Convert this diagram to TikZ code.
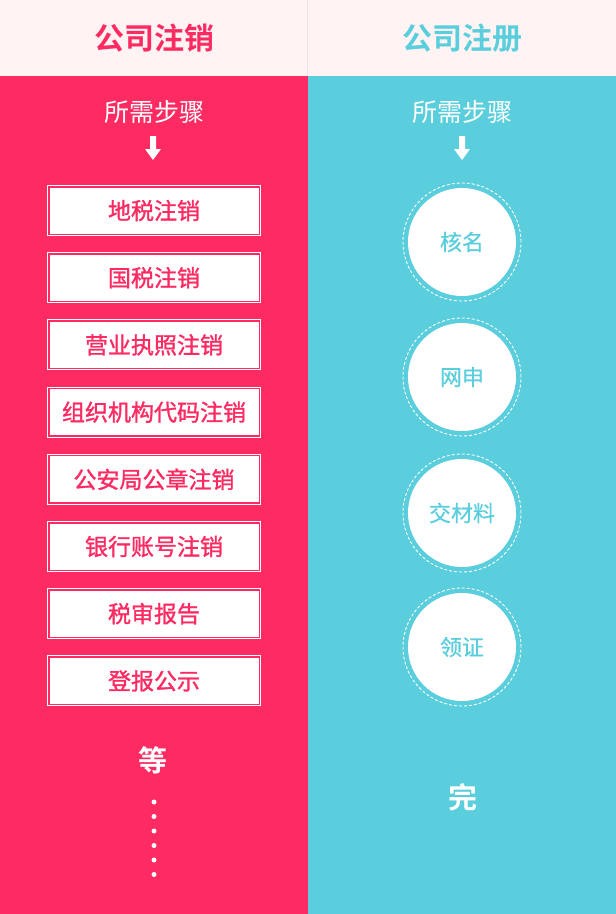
\documentclass[tikz,border=0pt]{standalone}
\usepackage{fontspec}
\setmainfont{Noto Sans CJK SC}
\newfontfamily\cjkbold{Noto Sans CJK SC Bold}
\newfontfamily\cjkmed[FakeBold=1.3]{Noto Sans CJK SC}
\newfontfamily\cjksemi[FakeBold=0.6]{Noto Sans CJK SC}
\definecolor{pinkc}{HTML}{FE2A62}
\definecolor{cyanc}{HTML}{5ACEDD}
\definecolor{headbg}{HTML}{FFF4F3}
\definecolor{divc}{HTML}{F6E4E2}
\tikzset{
  title/.style={font=\cjkbold\fontsize{30}{33}\selectfont},
  sub/.style={font=\fontsize{25}{28}\selectfont, text=white},
  stepbox/.style={draw=white, line width=1pt, fill=pinkc, minimum width=213pt, minimum height=50pt, inner sep=0pt},
  stepfill/.style={fill=white, minimum width=209pt, minimum height=46pt, inner sep=0pt, text=pinkc, font=\cjkmed\fontsize{23}{25}\selectfont},
  ring/.style={circle, draw=white, dash pattern=on 3pt off 2pt, line width=0.9pt, minimum size=118pt, inner sep=0pt},
  disc/.style={circle, fill=white, minimum size=108pt, inner sep=0pt, text=cyanc, font=\cjksemi\fontsize{22}{24}\selectfont},
  big/.style={font=\cjkbold\fontsize{29}{32}\selectfont, text=white},
  dotc/.style={circle, fill=white, minimum size=5pt, inner sep=0pt}
}
\begin{document}
\begin{tikzpicture}[x=1pt,y=-1pt]
\useasboundingbox (0,0) rectangle (616,914);
% backgrounds
\fill[headbg] (0,0) rectangle (616,76);
\fill[pinkc] (0,76) rectangle (307.5,914);
\fill[cyanc] (307.5,76) rectangle (616,914);
\draw[divc, line width=0.8pt] (307.5,0) -- (307.5,76);
% headers
\node[title, text=pinkc] (t1) at (154,38) {公司注销};
\node[title, text=cyanc] (t2) at (462,38) {公司注册};
% sub titles
\node[sub] (s1) at (154,112) {所需步骤};
\node[sub] (s2) at (462,112) {所需步骤};
% arrows
\foreach \cx in {153,462}{
  \fill[white] (\cx-3,136) -- (\cx+3,136) -- (\cx+3,149) -- (\cx+8,149) -- (\cx,160) -- (\cx-8,149) -- (\cx-3,149) -- cycle;
}
% left boxes
\foreach \i/\t in {0/地税注销,1/国税注销,2/营业执照注销,3/组织机构代码注销,4/公安局公章注销,5/银行账号注销,6/税审报告,7/登报公示}{
  \node[stepbox] (b\i) at (154,210.5+67.2*\i) {};
  \node[stepfill] (bt\i) at (b\i) {\t};
}
\node[big] (deng) at (153,760) {等};
\foreach \j in {0,...,5}{
  \node[dotc] (d\j) at (154,802+14.5*\j) {};
}
% right circles
\foreach \i/\t/\yy in {0/核名/242,1/网申/377,2/交材料/513,3/领证/647}{
  \node[ring] (r\i) at (462,\yy) {};
  \node[disc] (c\i) at (r\i) {\t};
}
\node[big] (wan) at (463,797) {完};
\end{tikzpicture}
\end{document}
